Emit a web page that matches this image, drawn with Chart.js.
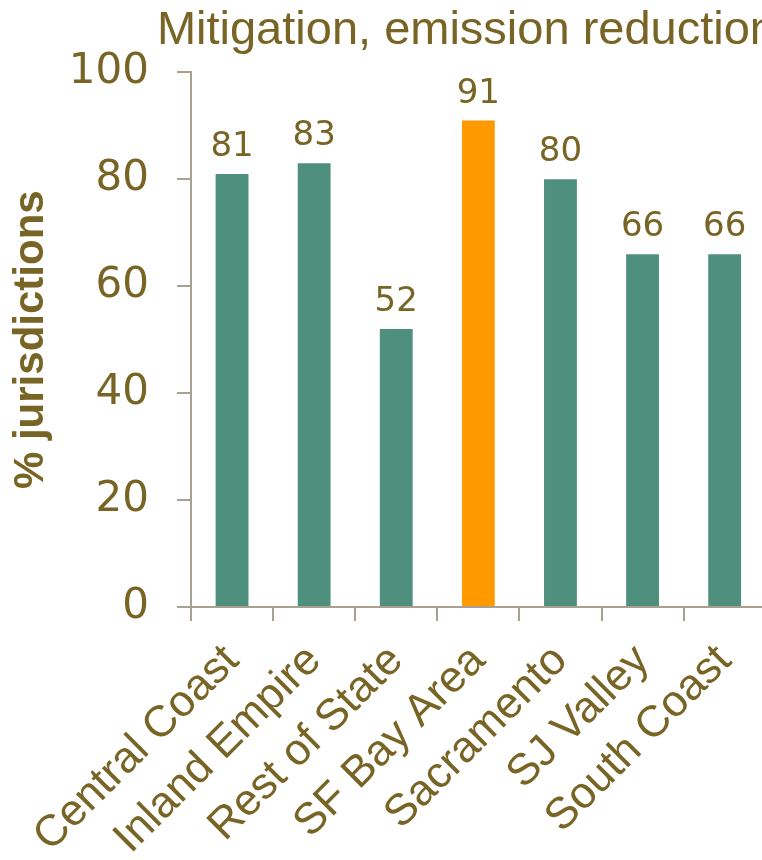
<!DOCTYPE html>
<html>
<head>
<meta charset="utf-8">
<script src="https://cdn.jsdelivr.net/npm/chart.js@4/dist/chart.umd.min.js"></script>
<style>
  html, body { margin: 0; padding: 0; background: #fff; overflow: hidden; }
  #wrap { position: relative; width: 776px; height: 860px; }
</style>
</head>
<body>
<div id="wrap"><canvas id="mitigationChart"></canvas></div>
<script>
// regions and share of jurisdictions (%)
const regions = ['Central Coast', 'Inland Empire', 'Rest of State', 'SF Bay Area', 'Sacramento', 'SJ Valley', 'South Coast'];
const shares = [81, 83, 52, 91, 80, 66, 66];
const yTicks = [0, 20, 40, 60, 80, 100];
const highlighted = 'SF Bay Area';

const TEXT = '#786424';
const AXIS = '#a8a090';
const TEAL = '#4e8f7e';
const ORANGE = '#ff9900';
const SANS = "'Liberation Sans', Arial, sans-serif";
const NUM = "'DejaVu Sans', sans-serif";

// value labels above each bar
const valueLabels = {
    id: 'valueLabels',
    afterDatasetsDraw(chart) {
        const ctx = chart.ctx;
        const meta = chart.getDatasetMeta(0);
        ctx.save();
        ctx.fillStyle = TEXT;
        ctx.font = '34px ' + NUM;
        ctx.textAlign = 'center';
        ctx.textBaseline = 'alphabetic';
        meta.data.forEach((bar, i) => {
            ctx.fillText(String(shares[i]), bar.x, bar.y - 18);
        });
        ctx.restore();
    }
};

new Chart(document.getElementById('mitigationChart'), {
    type: 'bar',
    data: {
        labels: regions,
        datasets: [{
            data: shares,
            backgroundColor: regions.map(r => r === highlighted ? ORANGE : TEAL),
            barPercentage: 0.4,
            categoryPercentage: 1.0
        }]
    },
    options: {
        responsive: true,
        maintainAspectRatio: false,
        animation: false,
        layout: { padding: 0 },
        plugins: {
            legend: { display: false },
            tooltip: { enabled: false },
            title: {
                display: true,
                text: 'Mitigation, emission reduction',
                align: 'end',
                color: TEXT,
                font: { family: SANS, size: 47, weight: 'normal' },
                padding: { top: 3, bottom: 13 }
            }
        },
        scales: {
            x: {
                grid: { drawOnChartArea: false, tickLength: 14, color: AXIS, lineWidth: 2 },
                border: { color: AXIS, width: 2 },
                ticks: {
                    color: TEXT,
                    font: { family: SANS, size: 44 },
                    maxRotation: 45,
                    minRotation: 45,
                    padding: 14
                },
                afterFit: s => { s.height = 253; }
            },
            y: {
                min: 0,
                max: 100,
                afterBuildTicks: s => { s.ticks = yTicks.map(v => ({ value: v })); },
                grid: { drawOnChartArea: false, tickLength: 14, color: AXIS, lineWidth: 2 },
                border: { color: AXIS, width: 2 },
                ticks: {
                    color: TEXT,
                    font: { family: NUM, size: 42 },
                    padding: 28
                },
                title: {
                    display: true,
                    text: '% jurisdictions',
                    color: TEXT,
                    font: { family: SANS, size: 42, weight: 'bold' },
                    padding: { top: 6, bottom: 0 }
                },
                afterFit: s => { s.width = 191; }
            }
        }
    },
    plugins: [valueLabels]
});
</script>
</body>
</html>
